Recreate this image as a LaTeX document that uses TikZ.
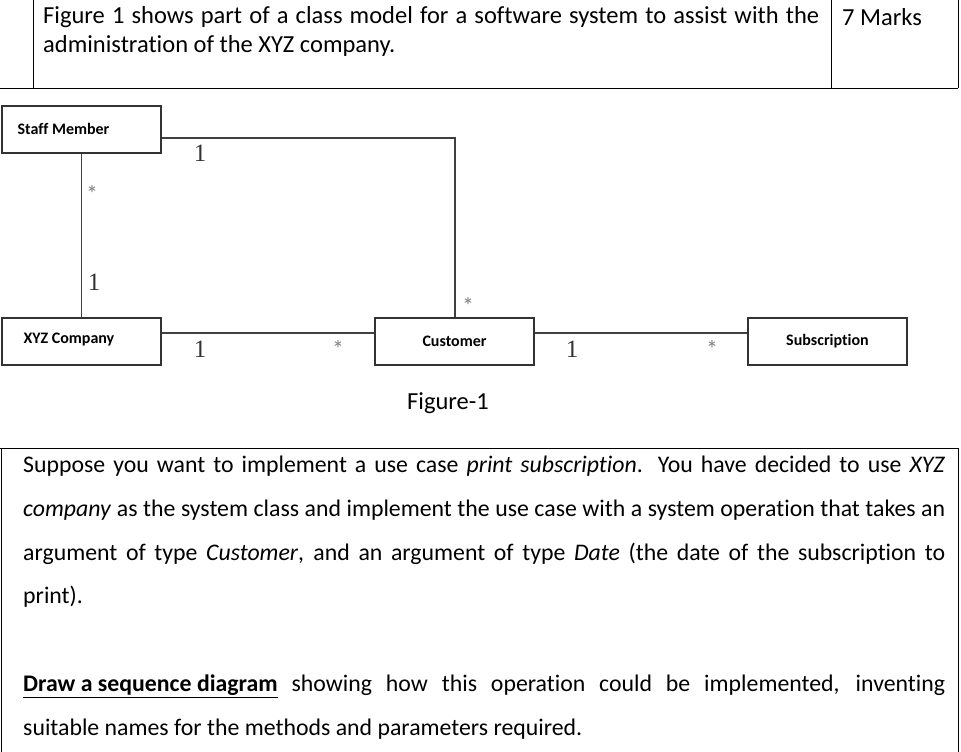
\documentclass[tikz,border=0pt]{standalone}
\usepackage{fontspec}
\setmainfont{Carlito}[Ligatures={NoCommon}]
\newfontfamily\cardfont{Liberation Serif}
\begin{document}
\begin{tikzpicture}[x=1pt,y=-1pt,
  cls/.style={draw=black!80,line width=1.3pt,minimum width=159pt,minimum height=47pt,inner sep=0pt},
  clsl/.style={font=\bfseries\fontsize{16}{16}\selectfont},
  conn/.style={draw=black!75,line width=1.2pt},
  card/.style={font=\cardfont\fontsize{25}{25}\selectfont,text=black!80},
  star/.style={font=\fontsize{24}{24}\selectfont,text=black!50},
  body/.style={anchor=west,font=\fontsize{24.5}{26}\selectfont,inner sep=0pt},
  jbody/.style={anchor=west,inner sep=0pt,font=\fontsize{23.8}{26}\selectfont,text width=922pt,align=justify,execute at begin node={\parfillskip=0pt}}]
\useasboundingbox (0,0) rectangle (961,752);
% table lines
\draw[line width=1pt] (33,0) -- (33,88) (831,0) -- (831,88) (958,0) -- (958,88) (0,88) -- (958,88);
\draw[line width=1pt] (0,448) -- (958,448) (1,448) -- (1,752) (958,448) -- (958,752);
\node[body,text width=776pt,align=justify,execute at begin node={\parfillskip=0pt}] (t1) at (43,17) {Figure 1 shows part of a class model for a software system to assist with the};
\node[body] (t2) at (43,46) {administration of the XYZ company.};
\node[body] (mk) at (842,17) {7 Marks};
% classes
\node[cls] (sm) at (81.5,129.5) {};
\node[anchor=west,clsl] (sml) at (14,129) {Staff Member};
\node[cls] (xyz) at (81.5,341.5) {};
\node[anchor=west,clsl] (xyzl) at (20,340) {XYZ Company};
\node[cls,clsl] (cu) at (454.5,341.5) {Customer};
\node[cls,clsl] (su) at (827.5,341.5) {Subscription};
\coordinate (c1) at (455,138);
\draw[conn] (sm.east |- c1) -- (c1) -- (cu.north -| c1);
\draw[conn] (sm.south) -- (xyz.north);
\draw[conn] (xyz.east |- 0,333) -- (cu.west |- 0,333);
\draw[conn] (cu.east |- 0,333) -- (su.west |- 0,333);
\node[card] (m1) at (200,153) {1};
\node[star] (m2) at (92,194) {*};
\node[card] (m3) at (94,282) {1};
\node[star] (m4) at (468,306) {*};
\node[card] (m5) at (200,349) {1};
\node[star] (m6) at (338,349) {*};
\node[card] (m7) at (572,349) {1};
\node[star] (m8) at (712,349) {*};
\node[font=\fontsize{24.5}{26}\selectfont] (fig) at (448,403) {Figure-1};
% body text
\node[jbody] (b1) at (23,466) {Suppose you want to implement a use case \textit{print subscription}. You have decided to use \textit{XYZ}};
\node[jbody] (b2) at (23,510) {\textit{company} as the system class and implement the use case with a system operation that takes an};
\node[jbody] (b3) at (23,554) {argument of type \textit{Customer}, and an argument of type \textit{Date} (the date of the subscription to};
\node[body,font=\fontsize{23.8}{26}\selectfont] (b4) at (23,597) {print).};
\node[jbody] (b5) at (23,686) {\textbf{\underline{Draw a sequence diagram}} showing how this operation could be implemented, inventing};
\node[body,font=\fontsize{23.8}{26}\selectfont] (b6) at (23,729) {suitable names for the methods and parameters required.};
\end{tikzpicture}
\end{document}
